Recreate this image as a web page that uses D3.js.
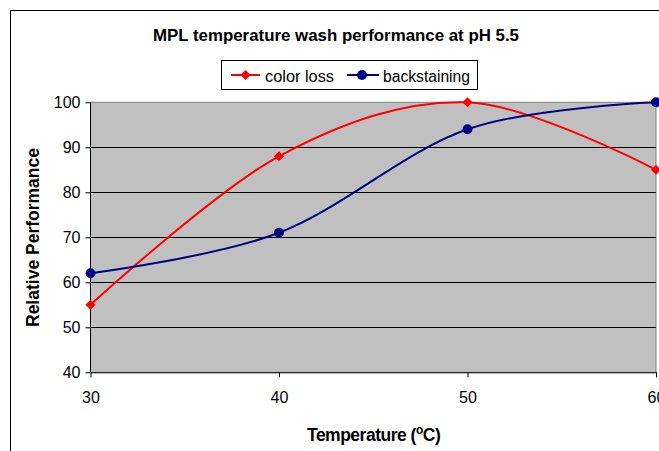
<!DOCTYPE html>
<html lang="en">
<head>
<meta charset="UTF-8">
<title>MPL temperature wash performance</title>
<script src="https://cdn.jsdelivr.net/npm/d3@7"></script>
<style>
    body { margin: 0; background: white; }
    svg { display: block; font-family: "Liberation Sans", Arial, sans-serif; }
</style>
</head>
<body>
<svg id="chart" width="659" height="451"></svg>
<script>
// data
const temps = [30, 40, 50, 60];
const colorLoss = [55, 88, 100, 85];
const backstaining = [62, 71, 94, 100];
const yTicks = [40, 50, 60, 70, 80, 90, 100];
const xTicks = [30, 40, 50, 60];

const svg = d3.select('#chart');

// outer chart frame (runs off the right and bottom)
svg.append('rect')
    .attr('x', 10.5).attr('y', 10.5)
    .attr('width', 760).attr('height', 520)
    .attr('fill', 'white').attr('stroke', 'black');

const plotLeft = 90.5, plotRight = 656, plotTop = 102.3, plotBottom = 372.3;
const x = d3.scaleLinear().domain([30, 60]).range([plotLeft, plotRight]);
const y = d3.scaleLinear().domain([40, 100]).range([plotBottom, plotTop]);

// plot area
svg.append('rect')
    .attr('x', plotLeft).attr('y', plotTop)
    .attr('width', plotRight - plotLeft).attr('height', plotBottom - plotTop)
    .attr('fill', '#c0c0c0').attr('stroke', '#808080');

// gridlines
svg.append('g').selectAll('line')
    .data(yTicks.filter(d => d > 40 && d < 100))
    .join('line')
    .attr('x1', plotLeft).attr('x2', plotRight)
    .attr('y1', d => Math.round(y(d)) + 0.5).attr('y2', d => Math.round(y(d)) + 0.5)
    .attr('stroke', 'black');

// axes
const yAxis = svg.append('g')
    .attr('transform', `translate(${plotLeft},0)`)
    .call(d3.axisLeft(y).tickValues(yTicks).tickSize(5).tickPadding(5).tickSizeOuter(0));
const xAxis = svg.append('g')
    .attr('transform', `translate(0,${plotBottom})`)
    .call(d3.axisBottom(x).tickValues(xTicks).tickSize(5).tickPadding(14).tickSizeOuter(0));
[yAxis, xAxis].forEach(a => {
    a.selectAll('text').attr('font-size', 16).attr('fill', 'black')
        .attr('font-family', '"Liberation Sans", Arial, sans-serif');
    a.selectAll('line, path').attr('stroke', 'black');
});
yAxis.select('.domain').remove();
yAxis.append('line').attr('y1', plotTop).attr('y2', plotBottom).attr('stroke', 'black');

// smoothed lines like excel
const line = d3.line()
    .x((d, i) => x(temps[i]))
    .y(d => y(d))
    .curve(d3.curveCardinal.tension(0));

svg.append('path').datum(colorLoss)
    .attr('d', line).attr('fill', 'none')
    .attr('stroke', '#ff0000').attr('stroke-width', 2);
svg.append('path').datum(backstaining)
    .attr('d', line).attr('fill', 'none')
    .attr('stroke', '#000080').attr('stroke-width', 2);

const diamond = d3.symbol().type(d3.symbolDiamond2).size(65);

svg.append('g').selectAll('path')
    .data(colorLoss)
    .join('path')
    .attr('d', diamond)
    .attr('transform', (d, i) => `translate(${x(temps[i])},${y(d)})`)
    .attr('fill', '#ff0000');

svg.append('g').selectAll('circle')
    .data(backstaining)
    .join('circle')
    .attr('cx', (d, i) => x(temps[i]))
    .attr('cy', d => y(d))
    .attr('r', 5)
    .attr('fill', '#000080');

// title
svg.append('text')
    .attr('x', 336).attr('y', 41)
    .attr('text-anchor', 'middle')
    .attr('font-size', 17).attr('font-weight', 'bold')
    .attr('textLength', 366).attr('lengthAdjust', 'spacingAndGlyphs')
    .text('MPL temperature wash performance at pH 5.5');

// legend
const legend = svg.append('g');
legend.append('rect')
    .attr('x', 221.5).attr('y', 60.5)
    .attr('width', 256).attr('height', 29)
    .attr('fill', 'white').attr('stroke', 'black');
legend.append('line')
    .attr('x1', 231).attr('x2', 260).attr('y1', 75).attr('y2', 75)
    .attr('stroke', '#ff0000').attr('stroke-width', 2);
legend.append('path')
    .attr('d', diamond)
    .attr('transform', 'translate(245.5,75)')
    .attr('fill', '#ff0000');
legend.append('text')
    .attr('x', 265).attr('y', 81.5)
    .attr('font-size', 16)
    .attr('textLength', 69).attr('lengthAdjust', 'spacingAndGlyphs')
    .text('color loss');
legend.append('line')
    .attr('x1', 347).attr('x2', 379).attr('y1', 75).attr('y2', 75)
    .attr('stroke', '#000080').attr('stroke-width', 2);
legend.append('circle')
    .attr('cx', 362).attr('cy', 75).attr('r', 5)
    .attr('fill', '#000080');
legend.append('text')
    .attr('x', 383).attr('y', 81.5)
    .attr('font-size', 16)
    .attr('textLength', 87).attr('lengthAdjust', 'spacingAndGlyphs')
    .text('backstaining');

// axis titles
svg.append('text')
    .attr('transform', 'translate(39,237.5) rotate(-90)')
    .attr('text-anchor', 'middle')
    .attr('font-size', 17.5).attr('font-weight', 'bold')
    .attr('textLength', 179).attr('lengthAdjust', 'spacingAndGlyphs')
    .text('Relative Performance');

const xt = svg.append('text')
    .attr('x', 307).attr('y', 441)
    .attr('font-size', 17.5).attr('font-weight', 'bold')
    .attr('letter-spacing', -0.5);
xt.append('tspan').text('Temperature (');
xt.append('tspan').attr('font-size', 12).attr('dy', -7).text('o');
xt.append('tspan').attr('dy', 7).text('C)');
</script>
</body>
</html>
